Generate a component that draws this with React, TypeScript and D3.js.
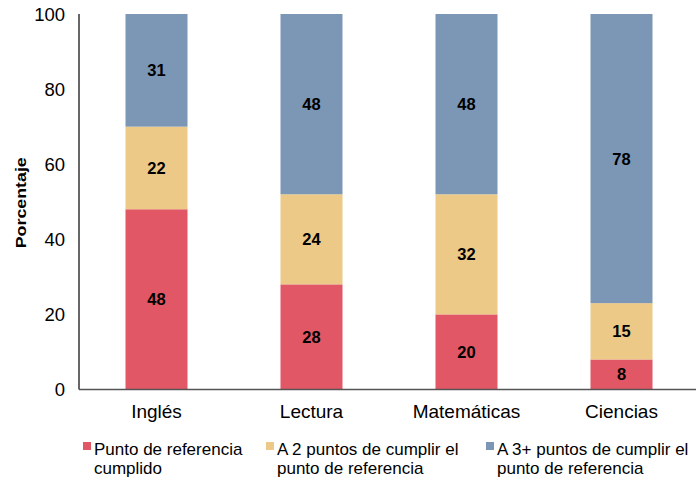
import React from "react";
import * as d3 from "d3";

const categories = ["Inglés", "Lectura", "Matemáticas", "Ciencias"];
const seriesNames = [
  ["Punto de referencia", "cumplido"],
  ["A 2 puntos de cumplir el", "punto de referencia"],
  ["A 3+ puntos de cumplir el", "punto de referencia"],
];
const met = [48, 28, 20, 8];
const twoPoints = [22, 24, 32, 15];
const threePlus = [31, 48, 48, 78];
const yTicks = [0, 20, 40, 60, 80, 100];
const colors = ["#E15765", "#ECC987", "#7B97B5"];

const W = 696;
const H = 479;
const left = 79;
const top = 14;
const bottom = 389.5;

export default function App() {
  const series = [met, twoPoints, threePlus];
  const x = d3.scaleBand<string>().domain(categories).range([left, left + 620]).paddingInner(0.6).paddingOuter(0.3);
  const y = d3.scaleLinear().domain([0, 100]).range([bottom, top]);
  const rows = categories.map((c, i) => ({ cat: c, s0: met[i], s1: twoPoints[i], s2: threePlus[i] }));
  const stacked = d3.stack<any>().keys(["s0", "s1", "s2"])(rows);
  const legendX = [83, 266, 486];
  const font = "'Liberation Sans', Arial, Helvetica, sans-serif";

  return (
    <svg width={W} height={H} style={{ position: "absolute", left: 0, top: 0, background: "#fff" }} fontFamily={font}>
      {stacked.map((layer, si) =>
        layer.map((d, ci) => {
          const y0 = Math.min(100, d[0]);
          const y1 = Math.min(100, d[1]);
          const bx = x(categories[ci])!;
          return (
            <g key={`${si}-${ci}`}>
              <rect x={bx} y={y(y1)} width={x.bandwidth()} height={y(y0) - y(y1)} fill={colors[si]} />
              <text
                x={bx + x.bandwidth() / 2}
                y={(y(y0) + y(y1)) / 2}
                dy="0.36em"
                textAnchor="middle"
                fontSize={16.5}
                fontWeight="bold"
                fill="#000"
              >
                {series[si][ci]}
              </text>
            </g>
          );
        })
      )}
      <line x1={left} x2={left} y1={top} y2={bottom} stroke="#000" strokeWidth={1.2} />
      <line x1={left} x2={W} y1={bottom} y2={bottom} stroke="#555" strokeWidth={1.4} />
      {yTicks.map((t) => (
        <text key={t} x={65} y={y(t)} dy="0.36em" textAnchor="end" fontSize={18.5} fill="#000">
          {t}
        </text>
      ))}
      {categories.map((c) => (
        <text key={c} x={x(c)! + x.bandwidth() / 2} y={418} textAnchor="middle" fontSize={19} fill="#000">
          {c}
        </text>
      ))}
      <text
        transform={`translate(26,${(top + bottom) / 2 + 1}) rotate(-90)`}
        textAnchor="middle"
        fontSize={15}
        fontWeight="bold"
        textLength={91}
        lengthAdjust="spacingAndGlyphs"
      >
        Porcentaje
      </text>
      {seriesNames.map((lines, i) => (
        <g key={i}>
          <rect x={legendX[i]} y={442} width={8} height={8} fill={colors[i]} />
          {lines.map((ln, j) => (
            <text key={j} x={legendX[i] + 11} y={455 + j * 19} fontSize={17} fill="#000">
              {ln}
            </text>
          ))}
        </g>
      ))}
    </svg>
  );
}
